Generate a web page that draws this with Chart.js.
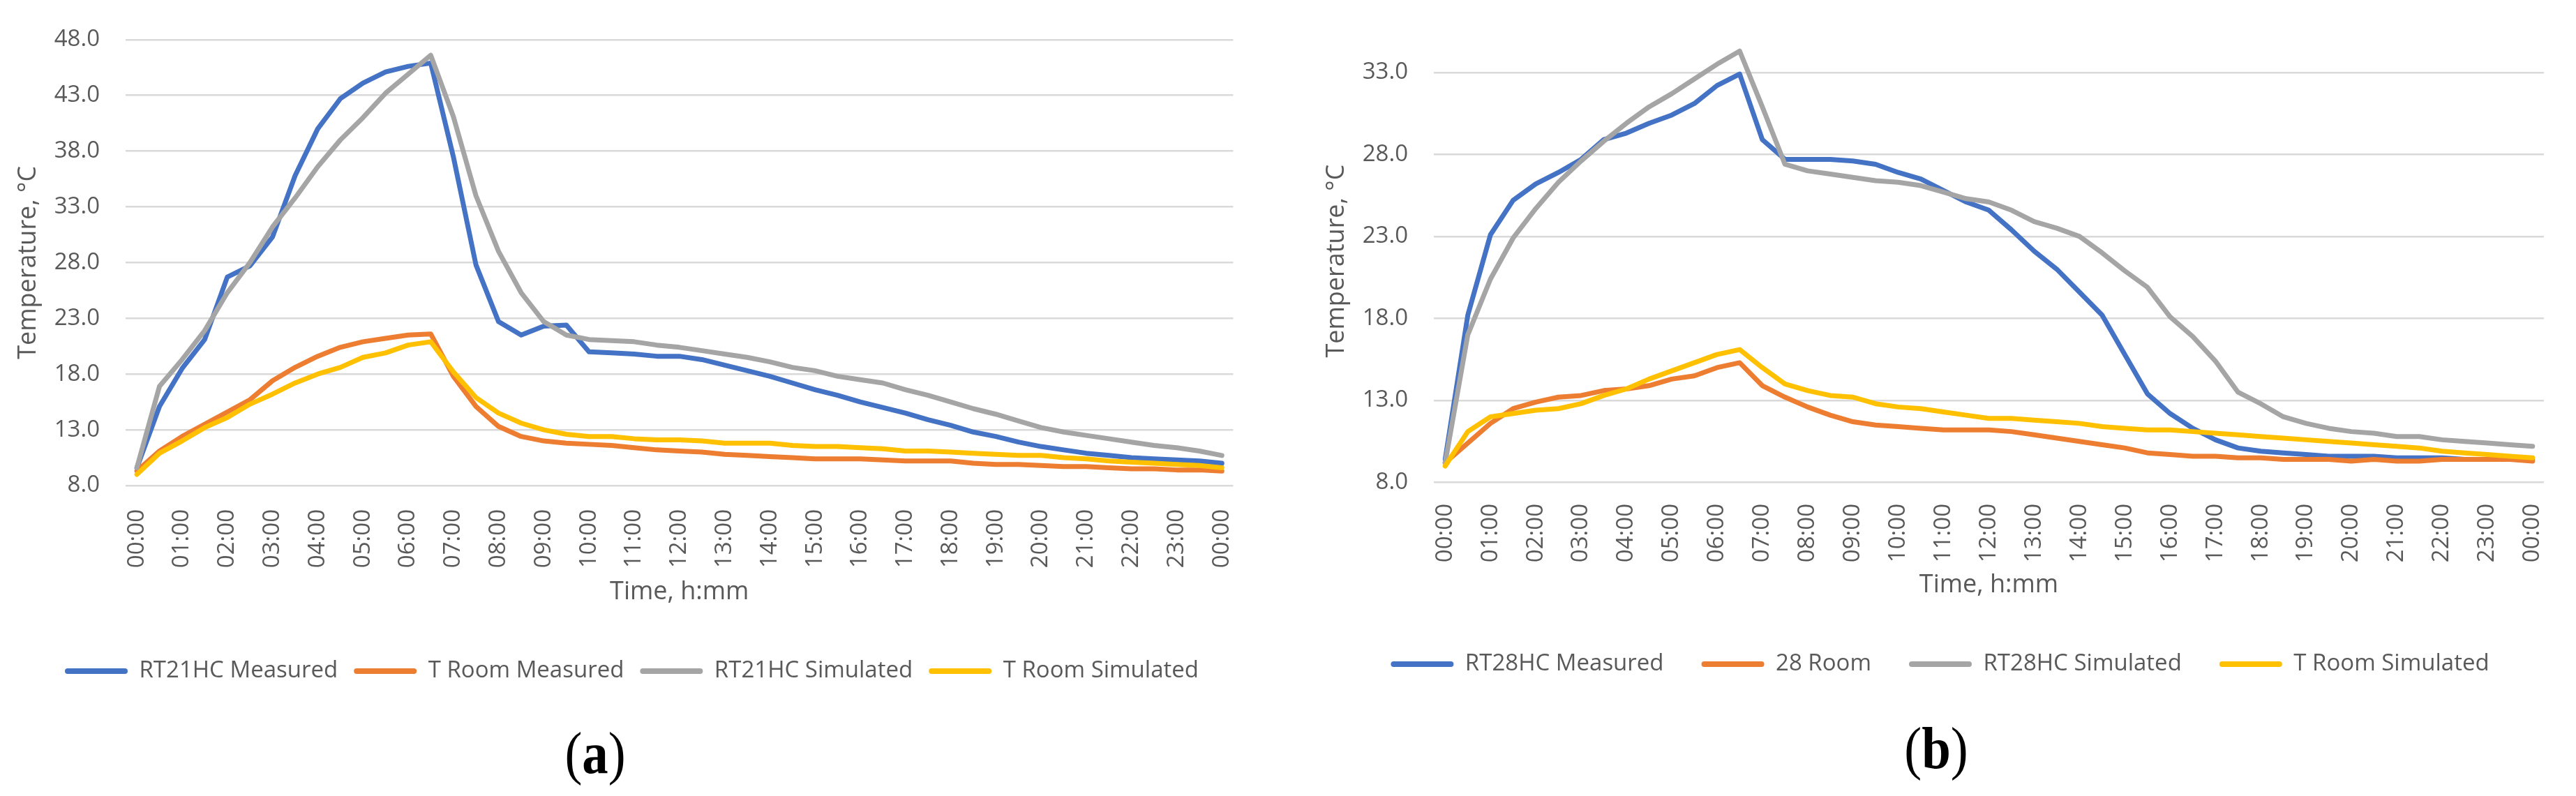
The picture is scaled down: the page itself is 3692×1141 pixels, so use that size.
<!DOCTYPE html>
<html>
<head>
<meta charset="utf-8">
<script src="https://cdn.jsdelivr.net/npm/chart.js@4.4.1/dist/chart.umd.min.js"></script>
<style>
  html, body { margin: 0; padding: 0; background: #fff; }
  #page { position: relative; width: 3692px; height: 1141px; overflow: hidden; }
  canvas { position: absolute; top: 0; }
  #chart-a { left: 0; }
  #chart-b { left: 1875px; }
  .caption {
    position: absolute; width: 200px; text-align: center;
    font-family: 'Liberation Serif', 'Times New Roman', serif;
    font-size: 85px; line-height: 1; color: #000;
    transform: scaleX(0.88);
  }
</style>
</head>
<body>
<div id="page">
  <canvas id="chart-a" width="1817" height="1141"></canvas>
  <canvas id="chart-b" width="1817" height="1141"></canvas>
  <div class="caption" style="left:753px; top:1037px;">(<b>a</b>)</div>
  <div class="caption" style="left:2675px; top:1030px;">(<b>b</b>)</div>
</div>
<script>
// half-hour categories, a label shown every hour
const timeLabels = ['00:00', '00:30', '01:00', '01:30', '02:00', '02:30', '03:00', '03:30', '04:00', '04:30',
  '05:00', '05:30', '06:00', '06:30', '07:00', '07:30', '08:00', '08:30', '09:00', '09:30',
  '10:00', '10:30', '11:00', '11:30', '12:00', '12:30', '13:00', '13:30', '14:00', '14:30',
  '15:00', '15:30', '16:00', '16:30', '17:00', '17:30', '18:00', '18:30', '19:00', '19:30',
  '20:00', '20:30', '21:00', '21:30', '22:00', '22:30', '23:00', '23:30', '00:00'];

// (a) RT21HC
const rt21Measured = [9.6, 15.1, 18.5, 21.1, 26.7, 27.7, 30.3, 35.8, 40.0, 42.7,
  44.1, 45.1, 45.6, 45.9, 37.5, 27.8, 22.7, 21.5, 22.3, 22.4,
  20.0, 19.9, 19.8, 19.6, 19.6, 19.3, 18.8, 18.3, 17.8, 17.2,
  16.6, 16.1, 15.5, 15.0, 14.5, 13.9, 13.4, 12.8, 12.4, 11.9,
  11.5, 11.2, 10.9, 10.7, 10.5, 10.4, 10.3, 10.2, 10.0];
const roomMeasuredA = [9.3, 11.1, 12.4, 13.5, 14.6, 15.7, 17.4, 18.6, 19.6, 20.4,
  20.9, 21.2, 21.5, 21.6, 17.8, 15.1, 13.3, 12.4, 12.0, 11.8,
  11.7, 11.6, 11.4, 11.2, 11.1, 11.0, 10.8, 10.7, 10.6, 10.5,
  10.4, 10.4, 10.4, 10.3, 10.2, 10.2, 10.2, 10.0, 9.9, 9.9,
  9.8, 9.7, 9.7, 9.6, 9.5, 9.5, 9.4, 9.4, 9.3];
const rt21Simulated = [9.6, 16.9, 19.3, 21.9, 25.3, 28.0, 31.2, 33.8, 36.6, 39.0,
  41.0, 43.2, 44.9, 46.6, 41.1, 34.0, 29.0, 25.3, 22.7, 21.5,
  21.1, 21.0, 20.9, 20.6, 20.4, 20.1, 19.8, 19.5, 19.1, 18.6,
  18.3, 17.8, 17.5, 17.2, 16.6, 16.1, 15.5, 14.9, 14.4, 13.8,
  13.2, 12.8, 12.5, 12.2, 11.9, 11.6, 11.4, 11.1, 10.7];
const roomSimulatedA = [9.0, 10.9, 12.0, 13.2, 14.1, 15.3, 16.2, 17.2, 18.0, 18.6,
  19.5, 19.9, 20.6, 20.9, 18.2, 15.9, 14.5, 13.6, 13.0, 12.6,
  12.4, 12.4, 12.2, 12.1, 12.1, 12.0, 11.8, 11.8, 11.8, 11.6,
  11.5, 11.5, 11.4, 11.3, 11.1, 11.1, 11.0, 10.9, 10.8, 10.7,
  10.7, 10.5, 10.4, 10.2, 10.1, 10.0, 9.9, 9.8, 9.6];

// (b) RT28HC
const rt28Measured = [9.4, 18.2, 23.1, 25.2, 26.2, 26.9, 27.7, 28.9, 29.3, 29.9,
  30.4, 31.1, 32.2, 32.9, 28.9, 27.7, 27.7, 27.7, 27.6, 27.4,
  26.9, 26.5, 25.8, 25.1, 24.6, 23.4, 22.1, 21.0, 19.6, 18.2,
  15.8, 13.4, 12.2, 11.3, 10.6, 10.1, 9.9, 9.8, 9.7, 9.6,
  9.6, 9.6, 9.5, 9.5, 9.5, 9.4, 9.4, 9.4, 9.4];
const room28 = [9.2, 10.4, 11.6, 12.5, 12.9, 13.2, 13.3, 13.6, 13.7, 13.9,
  14.3, 14.5, 15.0, 15.3, 13.9, 13.2, 12.6, 12.1, 11.7, 11.5,
  11.4, 11.3, 11.2, 11.2, 11.2, 11.1, 10.9, 10.7, 10.5, 10.3,
  10.1, 9.8, 9.7, 9.6, 9.6, 9.5, 9.5, 9.4, 9.4, 9.4,
  9.3, 9.4, 9.3, 9.3, 9.4, 9.4, 9.4, 9.4, 9.3];
const rt28Simulated = [9.2, 17.0, 20.4, 22.9, 24.7, 26.3, 27.6, 28.8, 29.9, 30.9,
  31.7, 32.6, 33.5, 34.3, 30.9, 27.4, 27.0, 26.8, 26.6, 26.4,
  26.3, 26.1, 25.7, 25.3, 25.1, 24.6, 23.9, 23.5, 23.0, 22.0,
  20.9, 19.9, 18.1, 16.9, 15.4, 13.5, 12.8, 12.0, 11.6, 11.3,
  11.1, 11.0, 10.8, 10.8, 10.6, 10.5, 10.4, 10.3, 10.2];
const roomSimulatedB = [9.0, 11.1, 12.0, 12.2, 12.4, 12.5, 12.8, 13.3, 13.7, 14.3,
  14.8, 15.3, 15.8, 16.1, 15.0, 14.0, 13.6, 13.3, 13.2, 12.8,
  12.6, 12.5, 12.3, 12.1, 11.9, 11.9, 11.8, 11.7, 11.6, 11.4,
  11.3, 11.2, 11.2, 11.1, 11.0, 10.9, 10.8, 10.7, 10.6, 10.5,
  10.4, 10.3, 10.2, 10.1, 9.9, 9.8, 9.7, 9.6, 9.5];

const yTicksA = [8, 13, 18, 23, 28, 33, 38, 43, 48];
const yTicksB = [8, 13, 18, 23, 28, 33];

const COLORS = ['#4472C4', '#ED7D31', '#A5A5A5', '#FFC000'];
const TEXT = '#595959';

Chart.defaults.font.family = "'Open Sans', sans-serif";
Chart.defaults.color = TEXT;

function line(label, data, i) {
  return {
    label,
    data,
    borderColor: COLORS[i],
    backgroundColor: COLORS[i],
    borderWidth: 7,
    pointRadius: 0,
    tension: 0,
    borderJoinStyle: 'round',
    borderCapStyle: 'round',
    order: 4 - i, // later series painted on top, like Excel
  };
}

function makeChart(id, series, yMin, yMax, yTicks, lay) {
  const ctx = document.getElementById(id).getContext('2d');
  return new Chart(ctx, {
    type: 'line',
    data: {
      labels: timeLabels,
      datasets: series.map((s, i) => line(s[0], s[1], i)),
    },
    options: {
      responsive: false,
      animation: false,
      layout: {
        padding: { left: 10, right: 16, top: lay.top, bottom: lay.bottom },
      },
      plugins: {
        tooltip: { enabled: false },
        legend: {
          position: 'bottom',
          labels: {
            boxWidth: 90,
            boxHeight: 8,
            useBorderRadius: true,
            borderRadius: 4,
            padding: lay.legendPad,
            color: TEXT,
            font: { size: 33 },
            sort: (a, b) => a.datasetIndex - b.datasetIndex,
            generateLabels: (chart) => Chart.defaults.plugins.legend.labels.generateLabels(chart)
              .map((item) => ({ ...item, lineWidth: 0 })),
          },
        },
      },
      scales: {
        x: {
          offset: true,
          grid: { display: false },
          border: { display: false },
          ticks: {
            autoSkip: false,
            maxRotation: 90,
            minRotation: 90,
            padding: lay.tickPad,
            font: { size: 33 },
            callback: (v, i) => (i % 2 === 0 ? timeLabels[i] : ''),
          },
          title: {
            display: true,
            text: 'Time, h:mm',
            font: { size: 36 },
            padding: { top: 0, bottom: lay.titlePad },
          },
          afterFit: (scale) => { scale.height = lay.xHeight; },
        },
        y: {
          min: yMin,
          max: yMax,
          grid: { color: '#D9D9D9', lineWidth: 2.5, drawTicks: false },
          border: { display: false },
          ticks: {
            padding: 37,
            font: { size: 33 },
            callback: (v) => v.toFixed(1),
          },
          afterBuildTicks: (scale) => { scale.ticks = yTicks.map((v) => ({ value: v })); },
          title: {
            display: true,
            text: 'Temperature, °C',
            font: { size: 36 },
            padding: { top: 9, bottom: 0 },
          },
          afterFit: (scale) => { scale.width = 170; },
        },
      },
    },
  });
}

makeChart('chart-a', [
  ['RT21HC Measured', rt21Measured],
  ['T Room Measured', roomMeasuredA],
  ['RT21HC Simulated', rt21Simulated],
  ['T Room Simulated', roomSimulatedA],
], 8, 48, yTicksA, { top: 39.5, bottom: 152.5, legendPad: 23, tickPad: 26, titlePad: 52, xHeight: 226.5 });

makeChart('chart-b', [
  ['RT28HC Measured', rt28Measured],
  ['28 Room', room28],
  ['RT28HC Simulated', rt28Simulated],
  ['T Room Simulated', roomSimulatedB],
], 8, 35, yTicksB, { top: 37.5, bottom: 162.5, legendPad: 54, tickPad: 22.5, titlePad: 21, xHeight: 190 });
</script>
</body>
</html>
